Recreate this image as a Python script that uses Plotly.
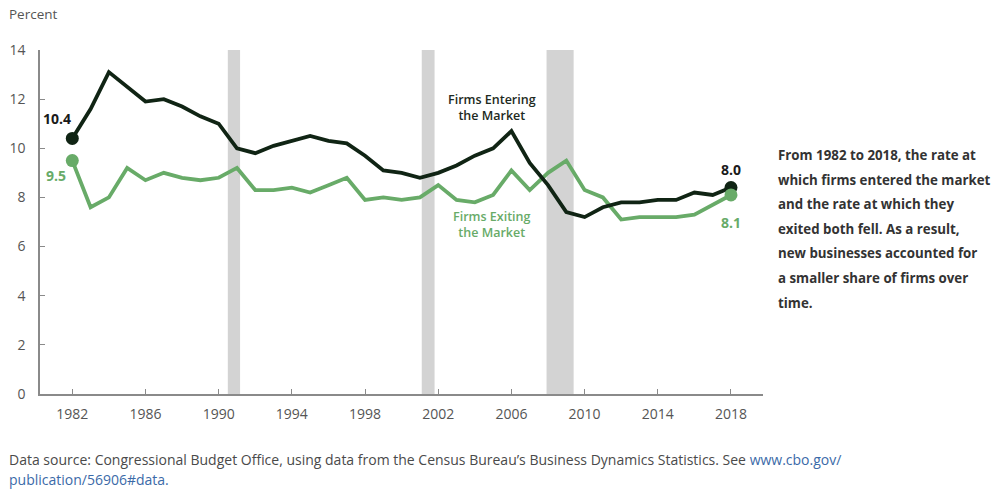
import plotly.graph_objects as go

years = list(range(1982, 2019))
entering = [10.4, 11.6, 13.1, 12.5, 11.9, 12.0, 11.7, 11.3, 11.0, 10.0,
            9.8, 10.1, 10.3, 10.5, 10.3, 10.2, 9.7, 9.1, 9.0, 8.8,
            9.0, 9.3, 9.7, 10.0, 10.7, 9.4, 8.5, 7.4, 7.2, 7.6,
            7.8, 7.8, 7.9, 7.9, 8.2, 8.1, 8.4]
exiting = [9.5, 7.6, 8.0, 9.2, 8.7, 9.0, 8.8, 8.7, 8.8, 9.2,
           8.3, 8.3, 8.4, 8.2, 8.5, 8.8, 7.9, 8.0, 7.9, 8.0,
           8.5, 7.9, 7.8, 8.1, 9.1, 8.3, 9.0, 9.5, 8.3, 8.0,
           7.1, 7.2, 7.2, 7.2, 7.3, 7.7, 8.1]
recession_start = [1990.5, 2001.1, 2007.92]
recession_end = [1991.17, 2001.8, 2009.4]
x_ticks = [1982, 1986, 1990, 1994, 1998, 2002, 2006, 2010, 2014, 2018]
y_ticks = [0, 2, 4, 6, 8, 10, 12, 14]
entering_labels = ["10.4", "8.0"]
exiting_labels = ["9.5", "8.1"]

DARK = "#102414"
GREEN = "#68ab68"
FONT = "Open Sans"

fig = go.Figure()

for s, e in zip(recession_start, recession_end):
    fig.add_shape(type="rect", xref="x", yref="y", x0=s, x1=e, y0=0, y1=14,
                  fillcolor="#d3d3d3", line_width=0, layer="below")

fig.add_trace(go.Scatter(x=years, y=exiting, mode="lines",
                         line=dict(color=GREEN, width=3.8), hoverinfo="skip"))
fig.add_trace(go.Scatter(x=years, y=entering, mode="lines",
                         line=dict(color=DARK, width=3.8), hoverinfo="skip"))
# end markers
fig.add_trace(go.Scatter(x=[years[0], years[-1]], y=[entering[0], entering[-1]],
                         mode="markers", marker=dict(color=DARK, size=13)))
fig.add_trace(go.Scatter(x=[years[0], years[-1]], y=[exiting[0], exiting[-1]],
                         mode="markers", marker=dict(color=GREEN, size=13)))

ann = []
ann.append(dict(x=years[0], y=entering[0], text="<b>" + entering_labels[0] + "</b>",
                showarrow=False, xshift=-15, yshift=20,
                font=dict(family=FONT, size=14, color="#1a1a1a")))
ann.append(dict(x=years[0], y=exiting[0], text="<b>" + exiting_labels[0] + "</b>",
                showarrow=False, xshift=-16, yshift=-15,
                font=dict(family=FONT, size=14, color=GREEN)))
ann.append(dict(x=years[-1], y=entering[-1], text="<b>" + entering_labels[1] + "</b>",
                showarrow=False, xshift=0, yshift=18,
                font=dict(family=FONT, size=14, color="#1a1a1a")))
ann.append(dict(x=years[-1], y=exiting[-1], text="<b>" + exiting_labels[1] + "</b>",
                showarrow=False, xshift=0, yshift=-28,
                font=dict(family=FONT, size=14, color=GREEN)))
ann.append(dict(x=2006, y=11.64, text="Firms Entering<br>the Market", showarrow=False,
                xshift=-19, font=dict(family=FONT, size=12.5, color="#1e2a22", weight=600)))
ann.append(dict(x=2006, y=6.88, text="Firms Exiting<br>the Market", showarrow=False,
                xshift=-19, font=dict(family=FONT, size=12.5, color=GREEN, weight=600)))

side_lines = ["From 1982 to 2018, the rate at",
              "which firms entered the market",
              "and the rate at which they",
              "exited both fell. As a result,",
              "new businesses accounted for",
              "a smaller share of firms over",
              "time."]
for i, line in enumerate(side_lines):
    ypx = 155 + i * 24.6
    ann.append(dict(xref="paper", yref="paper", x=(776 - 40) / 723, y=(394 - ypx) / 344,
                    xanchor="left", yanchor="middle", text=line, showarrow=False,
                    font=dict(family=FONT, size=13.3, color="#333333", weight=700)))

ann.append(dict(xref="paper", yref="paper", x=(7 - 40) / 723, y=(394 - 14) / 344,
                xanchor="left", yanchor="middle", text="Percent", showarrow=False,
                font=dict(family=FONT, size=13.5, color="#555555")))
ann.append(dict(xref="paper", yref="paper", x=(7 - 40) / 723, y=(394 - 459) / 344,
                xanchor="left", yanchor="middle",
                text="Data source: Congressional Budget Office, using data from the Census Bureau\u2019s Business Dynamics Statistics. See <span style='color:#3b6aa8'>www.cbo.gov/</span>",
                showarrow=False, font=dict(family=FONT, size=14, color="#4a4a4a")))
ann.append(dict(xref="paper", yref="paper", x=(7 - 40) / 723, y=(394 - 479) / 344,
                xanchor="left", yanchor="middle",
                text="publication/56906#data.", showarrow=False,
                font=dict(family=FONT, size=14, color="#3b6aa8")))

fig.update_layout(
    width=998, height=493,
    margin=dict(l=40, r=235, t=50, b=99),
    paper_bgcolor="white", plot_bgcolor="white",
    showlegend=False,
    annotations=ann,
    xaxis=dict(range=[1980.235, 2019.75], tickvals=x_ticks, showgrid=False,
               zeroline=False, showline=True, linecolor="#8a8a8a", linewidth=1.5,
               ticks="inside", ticklen=5, tickcolor="#8a8a8a",
               ticklabelstandoff=6, automargin=False,
               tickfont=dict(family=FONT, size=14, color="#555555")),
    yaxis=dict(range=[0, 14], tickvals=y_ticks, showgrid=False, zeroline=False,
               showline=True, linecolor="#8a8a8a", linewidth=1.5,
               ticks="inside", ticklen=5, tickcolor="#8a8a8a",
               ticklabelstandoff=10, automargin=False,
               tickfont=dict(family=FONT, size=14, color="#555555")),
)

fig.write_html("out.html")
